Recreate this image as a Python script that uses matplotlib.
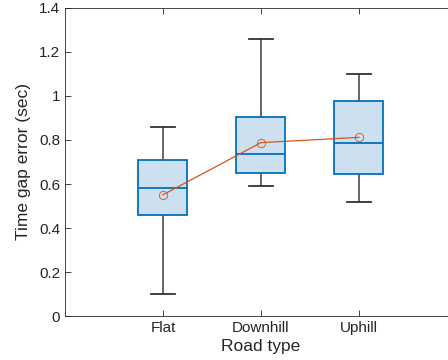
import numpy as np
import matplotlib.pyplot as plt

plt.rcParams['font.family'] = ['Liberation Sans', 'DejaVu Sans']

road_types = ['Flat', 'Downhill', 'Uphill']
whislo = [0.10, 0.59, 0.52]
q1 = [0.46, 0.65, 0.645]
medians = [0.582, 0.738, 0.788]
q3 = [0.71, 0.905, 0.976]
whishi = [0.86, 1.26, 1.10]
means = [0.551, 0.788, 0.812]

stats = []
for i in range(len(road_types)):
    stats.append({'label': road_types[i], 'whislo': whislo[i], 'q1': q1[i],
                  'med': medians[i], 'q3': q3[i], 'whishi': whishi[i], 'fliers': []})

fig = plt.figure(figsize=(4.48, 3.6), dpi=100)
ax = fig.add_axes([0.145, 0.122, 0.875, 0.856])

pos = np.arange(1, len(road_types) + 1)
ax.bxp(stats, positions=pos, widths=0.5, patch_artist=True, showfliers=False,
       boxprops=dict(facecolor='#cce0ef', edgecolor='#0072bd', linewidth=1.3),
       medianprops=dict(color='#0072bd', linewidth=1.3),
       whiskerprops=dict(color='#5a5a5a', linewidth=1.3),
       capprops=dict(color='#333333', linewidth=1.3),
       capwidths=0.24)

ax.plot(pos, means, '-o', color='#d95319', linewidth=0.9, markersize=6,
        markerfacecolor='none', markeredgewidth=0.6, zorder=5)

ax.set_xlim(0, 4)
ax.set_ylim(0, 1.4)
ax.set_xticks(pos)
ax.set_xticklabels(road_types)
ax.set_yticks(np.arange(0, 1.41, 0.2))
ax.set_yticklabels(['0', '0.2', '0.4', '0.6', '0.8', '1', '1.2', '1.4'])
ax.tick_params(direction='in', top=True, right=True, length=4, width=0.6,
               colors='#262626', labelsize=11)
for s in ax.spines.values():
    s.set_color('#262626')
    s.set_linewidth(0.6)
ax.set_xlabel('Road type', fontsize=12.5, color='#262626', labelpad=3)
ax.set_ylabel('Time gap error (sec)', fontsize=12.5, color='#262626', labelpad=6)

plt.savefig('out.png', dpi=100)
